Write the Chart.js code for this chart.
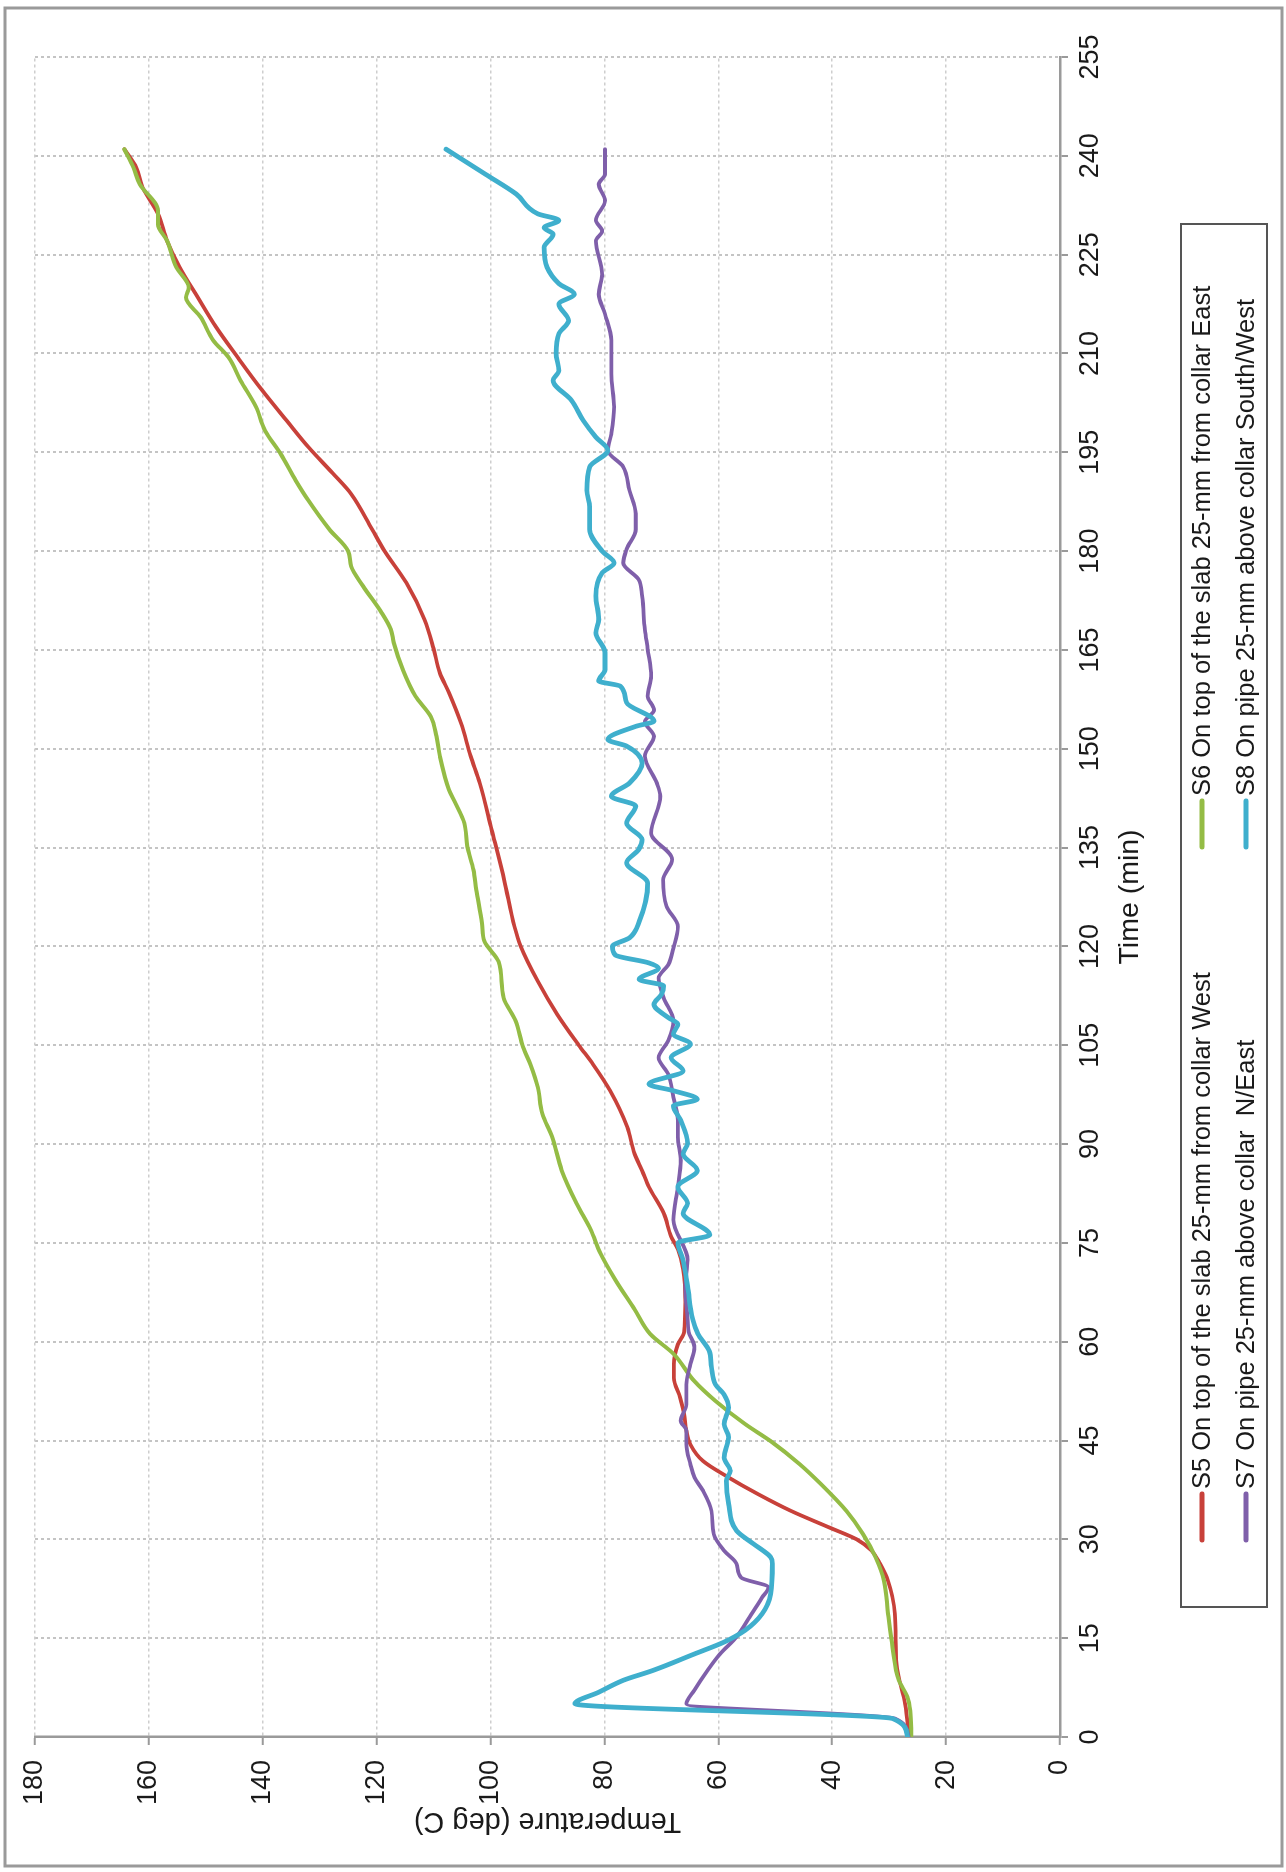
<!DOCTYPE html>
<html><head><meta charset="utf-8">
<script src="https://cdn.jsdelivr.net/npm/chart.js@4.4.1/dist/chart.umd.min.js"></script>
<style>
html,body{margin:0;padding:0;overflow:hidden;background:#fff;width:1286px;height:1872px;}
#wrap{position:absolute;left:0;top:0;width:1872px;height:1286px;transform-origin:0 0;transform:translate(0px,1872px) rotate(-90deg);}
canvas{display:block;}
</style></head><body>
<div id="wrap"><canvas id="c" width="1872" height="1286"></canvas></div>
<script>
const timeTicks = [0,15,30,45,60,75,90,105,120,135,150,165,180,195,210,225,240,255];
const tempTicks = [0,20,40,60,80,100,120,140,160,180];
const seriesLabels = [
  'S5 On top of the slab 25-mm from collar West',
  'S6 On top of the slab 25-mm from collar East',
  'S7 On pipe 25-mm above collar  N/East',
  'S8 On pipe 25-mm above collar South/West'
];
const seriesColors = ['#C8413A','#94BC45','#7F5FAA','#3FAFCD'];

const s5Time = [0,5,11,18.7,23.7,26.3,28.3,30,31.8,34.3,36.9,39.4,41.9,44.4,46.5,49,51.5,54.5,56.6,59.6,61.5,66,71,74,76,79.5,83.5,86,88.5,92.6,98.1,102.1,105,109.7,114.7,120,123,130.1,137.7,144.8,148.9,153.9,158.5,161.5,165.2,169.6,175.2,180,183.3,188.7,191.8,195.8,199.8,204.4,209.4,214,218.5,223.1,227.1,231.2,235.2,238.2,241];
const s5Temp = [26.5,27.2,28.7,29,30.2,31.6,33.1,35.7,40.5,47.2,53.1,58.2,62.7,64.9,65.6,66,66.7,67.8,67.8,67.1,66,65.8,66.2,67.1,68.3,69.6,72.2,73.4,74.7,76,79,82,84.5,88.3,91.7,94.7,95.8,97.6,99.8,101.9,103.5,105.2,107.3,108.9,110,111.6,114.8,118.6,120.8,124.5,127.7,132,135.8,140.1,144.4,148.2,151.4,154.6,156.8,158.4,161.1,162.2,164.3];

const s6Time = [0,4,6.1,8.6,13.6,18.7,23.7,27.3,30.8,34.3,38.4,41.4,44.9,47.5,51,54,58.1,61.2,64.9,69.4,73.4,77,81,86,91.1,94.6,98.6,102.1,104.7,108.7,112.2,117.7,120.8,123.5,128.6,131.6,135.2,138.7,141.8,143.8,148.9,151.9,154.9,158,162,166.1,168.1,170.6,174.7,177.7,180,183.3,187.7,190.7,194.8,198.3,201.9,205.9,209.4,212,215.5,218.5,220,223.1,227.1,229.6,231.7,235.7,238.2,241];
const s6Temp = [26.1,26.3,26.8,28.3,29.4,30.2,30.9,32.4,34.6,37.5,42,45.7,50.8,55.3,60.5,64.2,67.8,72,74.7,78.1,80.7,82.4,84.9,87.5,89.2,90.9,91.7,93,94.3,95.6,97.7,98.6,101.1,101.5,102.5,103,104.1,104.6,106.2,107.3,108.9,109.5,110.5,113.2,115.4,117,117.5,119.1,122.4,124.5,125,128.3,132,134.2,136.9,139.6,141.2,143.9,146,148.7,150.9,153.5,153,155.2,156.8,158.4,158.4,161.6,162.7,164.3];

const s7Time = [0,2.8,5,7.1,10.1,12.6,15.2,18.2,21.2,22.7,24.2,26.3,28.3,30.8,34.3,37.4,39.4,41.4,44.4,46.5,48,50.5,53.5,56.6,59.1,61.5,63.4,68.4,72.4,78.5,83.5,87.5,91.1,93.6,97.1,100.6,103.1,105.7,108.7,112.2,115.2,117.2,119.7,123,126.1,130.1,133.2,137.2,142.8,144.8,148.9,151.9,154.1,155.9,158,161,165.1,168.1,173.2,175.7,178.2,180.3,183.3,185.7,189.2,192.8,195.3,197.8,201.9,206.9,212,216,219,222,227.1,228.6,230.2,233.2,235.7,237.2,241];
const s7Temp = [26.6,29,65.6,64.2,61.9,59.7,56.8,54.5,52.3,51.2,56,56.8,59,60.8,61.2,62.7,64.2,64.9,65.6,65.6,66.6,65.6,65.6,64.9,64.2,65.2,65.4,65.8,65.4,67.9,67.1,66.6,67.1,67.1,67.9,68.8,70.5,68.8,67.9,69.6,70.5,68.8,67.9,67.1,69.1,69.7,68.1,71.8,70.2,70.8,72.9,71.3,72.9,71.3,72.4,71.8,72.4,72.9,73.4,74,76.7,76.1,74.5,74.5,75.6,76.7,79.4,78.8,78.3,78.8,78.8,79.9,81,80.4,81.5,80.4,81.5,79.9,81,79.9,79.9];

const s8Time = [0,2.8,5.05,6.8,8.6,10.1,12.6,14.4,16.2,18.7,21.7,26.3,27.3,29.3,31.3,35.4,38.9,40.4,42.4,45.5,47.5,50,52,53.5,56.1,58.6,61.2,63.4,68.4,72.4,75,76.2,79.5,81,83.5,86,88.5,90.1,93.6,95.8,96.8,98.1,99.1,101.1,103.1,105.2,106.7,108.2,109.2,111.2,112.7,114,115,116.7,117.5,118.7,120,121.3,123.8,129.6,132.7,134.7,136.2,138.7,141.3,142.8,144.8,147.8,150.4,151.4,153.4,154.2,157,159.5,160.3,162,164.6,167.6,169.6,173.2,176.7,178.2,180,183.3,186.7,189.2,192.8,195.3,197.3,199.8,202.9,205.9,207.4,210,213,215,217.5,219,220.6,223.1,226.1,228.1,229.1,230.2,231.2,234.2,237.2,241];
const s8Temp = [26.8,29.4,85.2,81,76.7,71.5,64.2,59,55.3,52.3,50.8,50.5,50.8,53.8,56.8,58.2,58.6,57.9,59,58.2,59,58.2,59,60.5,61.2,61.6,63.6,64.5,65.4,66.2,67.1,61.5,66.2,65.4,67.1,63.7,66.2,65.4,66.6,67.9,63.7,67.9,72.2,66.2,68.3,64.9,67.9,67.1,68.8,71.3,70,69.6,73.9,70.5,72.2,78.1,78.6,75.6,73.9,72.4,76.1,74,73.4,76.1,74.5,78.8,75.6,73.4,76.1,79.4,74.5,71.3,76.1,77.2,81,79.9,79.9,81.5,81,81.5,80.4,78.3,80.4,82.6,82.6,83.1,82.6,79.4,81.5,83.7,85.8,89,88,88.5,88,86.3,88,85.3,88,90.1,90.6,89,90.6,88,91.7,95.5,100.9,107.8];

const FONT = '"Liberation Sans", Arial, sans-serif';
const pts = (ts, vs) => ts.map((t, i) => ({x: t, y: vs[i]}));
const allSeries = [[s5Time,s5Temp],[s6Time,s6Temp],[s7Time,s7Temp],[s8Time,s8Temp]];
const widths = [3.8,4,3.8,4.8];

const datasets = allSeries.map((s, i) => ({
  label: seriesLabels[i],
  data: pts(s[0], s[1]),
  borderColor: seriesColors[i],
  backgroundColor: seriesColors[i],
  borderWidth: widths[i],
  pointRadius: 0,
  fill: false,
  cubicInterpolationMode: 'monotone',
  borderJoinStyle: 'round',
  borderCapStyle: 'round',
  order: 4 - i
}));

const boxLegend = {
  id: 'boxLegend',
  afterDraw(chart) {
    const ctx = chart.ctx;
    ctx.save();
    ctx.strokeStyle = '#9a9a9a'; ctx.lineWidth = 3;
    ctx.strokeRect(6, 5, 1858, 1277);
    ctx.strokeStyle = '#555'; ctx.lineWidth = 2;
    ctx.strokeRect(265, 1181, 1383, 86);
    const cols = [330, 1023], rows = [1202, 1246];
    chart.data.datasets.forEach((ds, i) => {
      const x = cols[i % 2], y = rows[Math.floor(i / 2)];
      ctx.strokeStyle = ds.borderColor; ctx.lineWidth = 5; ctx.lineCap = 'round';
      ctx.beginPath(); ctx.moveTo(x + 2, y); ctx.lineTo(x + 48, y); ctx.stroke();
      ctx.fillStyle = '#1a1a1a';
      ctx.font = '25.5px ' + FONT;
      ctx.textBaseline = 'middle'; ctx.textAlign = 'left';
      ctx.fillText(ds.label, x + 53, y + 1);
    });
    ctx.restore();
  }
};

new Chart(document.getElementById('c'), {
  type: 'line',
  data: { datasets },
  plugins: [boxLegend],
  options: {
    responsive: false,
    animation: false,
    devicePixelRatio: 1,
    layout: { padding: { left: 0, right: 57, top: 35, bottom: 0 } },
    plugins: { legend: { display: false }, tooltip: { enabled: false } },
    scales: {
      x: {
        type: 'linear', min: 0, max: 255,
        afterBuildTicks: s => { s.ticks = timeTicks.map(v => ({ value: v })); },
        afterFit: s => { s.height = 226; },
        ticks: { autoSkip: false, maxRotation: 0, padding: 6, color: '#1a1a1a', font: { family: FONT, size: 27 } },
        grid: { color: c => (c.tick && c.tick.value === 0) ? 'rgba(0,0,0,0)' : '#c4c4c4', lineWidth: 2, drawTicks: true, tickLength: 8, tickColor: '#9a9a9a', tickWidth: 2 },
        border: { display: true, color: '#9a9a9a', width: 2.5, dash: [3, 3] },
        title: { display: true, text: 'Time (min)', color: '#1a1a1a', font: { family: FONT, size: 28.5 }, padding: { top: 0, bottom: 139 } }
      },
      y: {
        type: 'linear', min: 0, max: 180,
        afterBuildTicks: s => { s.ticks = tempTicks.map(v => ({ value: v })); },
        afterFit: s => { s.width = 135; },
        ticks: { autoSkip: false, padding: 15, color: '#1a1a1a', font: { family: FONT, size: 27 } },
        grid: { color: c => (c.tick && c.tick.value === 0) ? 'rgba(0,0,0,0)' : '#cecece', lineWidth: 1.5, drawTicks: true, tickLength: 8, tickColor: '#9a9a9a', tickWidth: 2 },
        border: { display: true, color: '#9a9a9a', width: 2.5, dash: [3, 3] },
        title: { display: true, text: 'Temperature (deg C)', color: '#1a1a1a', font: { family: FONT, size: 29 }, padding: { top: 34, bottom: 0 } }
      }
    }
  }
});
</script>
</body></html>
